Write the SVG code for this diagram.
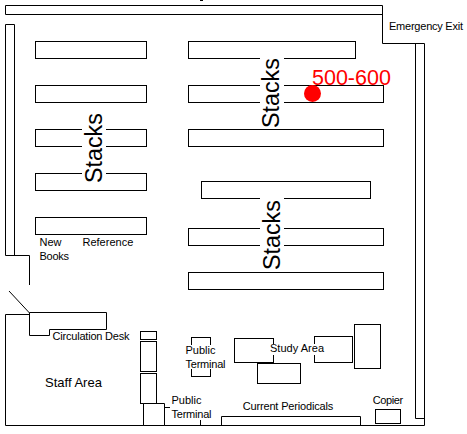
<svg xmlns="http://www.w3.org/2000/svg" width="467" height="434" viewBox="0 0 467 434">
<style>
.s{fill:#fff;stroke:#000;stroke-width:1}
.l{fill:none;stroke:#000;stroke-width:1}
.w{fill:#fff;stroke:none}
text{font-family:"Liberation Sans",Arial,sans-serif;fill:#000;font-size:11px}
.b{font-size:23.3px}
.m{font-size:13px}
</style>
<rect width="467" height="434" fill="#fff"/>
<g id="walls">
<rect x="200" y="0" width="3" height="1" fill="#000"/>
<path class="l" d="M5.5 14.5V5.5H382.5V43.5H424.5V425.5H5.5V314.5H29.5"/>
<path class="l" d="M5.5 14.5H382.5"/>
<path class="l" d="M14.5 255.5V24.5H5.5V255.5H29.5V285"/>
<path class="l" d="M415.5 43.5V418.5H424.5"/>
<path class="l" d="M9 291L29.5 313"/>
</g>
<g id="shelves">
<rect class="s" x="35.5" y="41.5" width="111" height="17"/>
<rect class="s" x="35.5" y="85.5" width="111" height="17"/>
<rect class="s" x="35.5" y="129.5" width="111" height="17"/>
<rect class="s" x="35.5" y="173.5" width="111" height="17"/>
<rect class="s" x="35.5" y="217.5" width="111" height="17"/>
<rect class="s" x="188.5" y="41.5" width="167" height="17"/>
<rect class="s" x="188.5" y="85.5" width="195" height="17"/>
<rect class="s" x="188.5" y="129.5" width="195" height="17"/>
<rect class="s" x="201.5" y="181.5" width="169" height="17"/>
<rect class="s" x="188.5" y="228.5" width="195" height="17"/>
<rect class="s" x="188.5" y="272.5" width="195" height="17"/>
</g>
<g id="stacks-1"><rect class="w" x="82" y="112" width="24" height="72"/><text class="b" transform="translate(102 183) rotate(-90)">Stacks</text></g>
<g id="stacks-2"><rect class="w" x="260" y="56" width="24" height="73"/><text class="b" transform="translate(279 128) rotate(-90)">Stacks</text></g>
<g id="stacks-3"><rect class="w" x="260" y="196" width="24" height="75"/><text class="b" transform="translate(280 270) rotate(-90)">Stacks</text></g>
<g id="marker">
<circle cx="312.5" cy="93.5" r="8.5" fill="#f00"/>
<text x="312" y="85" style="font-size:21.5px;fill:#f00">500-600</text>
</g>
<g id="emergency-exit"><text x="389" y="30" textLength="74">Emergency Exit</text></g>
<g id="new-books"><text x="39.5" y="246">New</text><text x="39.5" y="260" textLength="29.5">Books</text></g>
<g id="reference"><text x="82.5" y="246">Reference</text></g>
<g id="circulation-desk">
<path class="s" d="M29.5 312.5H106.5V329.5H49.5V335.5H29.5Z"/>
<text x="52.5" y="340" textLength="77">Circulation Desk</text>
</g>
<g id="staff-area"><text x="45" y="387" class="m">Staff Area</text></g>
<g id="cabinets">
<rect class="s" x="140.5" y="331.5" width="16" height="8"/>
<rect class="s" x="140.5" y="341.5" width="16" height="30"/>
<rect class="s" x="140.5" y="373.5" width="16" height="30"/>
<path class="s" d="M143.5 403.5H164.5V425.5H143.5Z"/>
</g>
<g id="public-terminal-1">
<rect class="s" x="191.5" y="337.5" width="19" height="39"/>
<rect class="w" x="185" y="345" width="42" height="24"/>
<text x="185.5" y="354">Public</text><text x="185.5" y="368" textLength="40">Terminal</text>
</g>
<g id="public-terminal-2">
<path class="l" d="M164.5 407.5H170M200.5 420V425"/>
<text x="171.5" y="404">Public</text><text x="171.5" y="418" textLength="40">Terminal</text>
</g>
<g id="study-area">
<rect class="s" x="234.5" y="338.5" width="39" height="24"/>
<rect class="s" x="314.5" y="336.5" width="38" height="26"/>
<rect class="s" x="257.5" y="363.5" width="43" height="20"/>
<rect class="s" x="354.5" y="324.5" width="26" height="44"/>
<rect class="w" x="270" y="344" width="46" height="11"/>
<text x="270" y="352" textLength="54">Study Area</text>
</g>
<g id="current-periodicals">
<path class="l" d="M221.5 425V416.5H360.5V425"/>
<text x="242.7" y="410" textLength="90.6">Current Periodicals</text>
</g>
<g id="copier">
<rect class="s" x="375.5" y="409.5" width="25" height="14"/>
<text x="372.7" y="404" textLength="30.5">Copier</text>
</g>
</svg>
